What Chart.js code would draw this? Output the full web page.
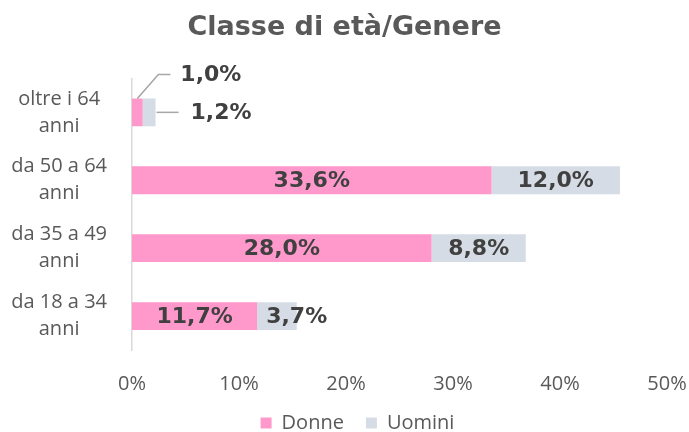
<!DOCTYPE html>
<html>
<head>
<meta charset="utf-8">
<script src="https://cdn.jsdelivr.net/npm/chart.js@4/dist/chart.umd.min.js"></script>
<style>
  html, body { margin: 0; padding: 0; background: #fff; }
  #wrap { width: 689px; height: 432px; }
</style>
</head>
<body>
<div id="wrap"><canvas id="ageChart"></canvas></div>
<script>
// Classe di età/Genere - quote per fascia d'età e genere
const categories = [
  ['oltre i 64', 'anni'],
  ['da 50 a 64', 'anni'],
  ['da 35 a 49', 'anni'],
  ['da 18 a 34', 'anni']
];
const donne = [1.0, 33.6, 28.0, 11.7];
const uomini = [1.2, 12.0, 8.8, 3.7];
const xTicks = [0, 10, 20, 30, 40, 50];

const pct = v => v.toFixed(1).replace('.', ',') + '%';

// draws the value labels; tiny bars get a callout with a leader line
const barLabels = {
  id: 'barLabels',
  afterLayout(chart) {
    // nudge legend to the right like the original
    chart.legend.left += 13;
    chart.legend.right += 13;
  },
  afterDatasetsDraw(chart) {
    const ctx = chart.ctx;
    ctx.save();
    ctx.font = 'bold 22px "DejaVu Sans"';
    ctx.fillStyle = '#404040';
    ctx.textBaseline = 'middle';
    chart.data.datasets.forEach((ds, di) => {
      const meta = chart.getDatasetMeta(di);
      meta.data.forEach((bar, i) => {
        const text = pct(ds.data[i]);
        const left = Math.min(bar.x, bar.base);
        const right = Math.max(bar.x, bar.base);
        const w = right - left;
        const tw = ctx.measureText(text).width;
        if (w < 30) {
          ctx.strokeStyle = '#A6A6A6';
          ctx.lineWidth = 1.5;
          ctx.beginPath();
          if (di === 0) {
            const cx = (left + right) / 2;
            const top = bar.y - bar.height / 2;
            ctx.moveTo(cx, top);
            ctx.lineTo(cx + 21, top - 24);
            ctx.lineTo(cx + 33, top - 24);
            ctx.stroke();
            ctx.textAlign = 'left';
            ctx.fillText(text, cx + 43, top - 23);
          } else {
            ctx.moveTo(right + 1, bar.y);
            ctx.lineTo(right + 23, bar.y);
            ctx.stroke();
            ctx.textAlign = 'left';
            ctx.fillText(text, right + 35, bar.y + 1);
          }
        } else if (tw > w - 4) {
          ctx.textAlign = 'left';
          ctx.fillText(text, left + 9, bar.y + 1);
        } else {
          ctx.textAlign = 'center';
          ctx.fillText(text, (left + right) / 2, bar.y + 1);
        }
      });
    });
    ctx.restore();
  }
};

const ctx = document.getElementById('ageChart').getContext('2d');
new Chart(ctx, {
  type: 'bar',
  data: {
    labels: categories,
    datasets: [
      {
        label: 'Donne',
        data: donne,
        backgroundColor: '#FF99CC',
        barPercentage: 0.41,
        categoryPercentage: 1
      },
      {
        label: 'Uomini',
        data: uomini,
        backgroundColor: '#D6DCE5',
        barPercentage: 0.41,
        categoryPercentage: 1
      }
    ]
  },
  options: {
    indexAxis: 'y',
    responsive: true,
    maintainAspectRatio: false,
    animation: false,
    events: [],
    layout: { padding: { left: 0, right: 0, top: 0, bottom: -11 } },
    scales: {
      x: {
        stacked: true,
        min: 0,
        max: 50,
        afterBuildTicks: s => { s.ticks = xTicks.map(v => ({ value: v })); },
        afterFit: s => { s.height = 41; s.paddingRight = 22; },
        grid: { display: false },
        border: { display: false },
        ticks: {
          padding: 14,
          color: '#595959',
          font: { family: '"Open Sans"', size: 20 },
          callback: v => v + '%'
        }
      },
      y: {
        stacked: true,
        afterFit: s => { s.width = 132; },
        grid: { display: false },
        border: { display: true, color: '#D9D9D9', width: 1.5 },
        ticks: {
          crossAlign: 'center',
          padding: 17,
          color: '#595959',
          font: { family: '"Open Sans"', size: 20, lineHeight: 1.35 }
        }
      }
    },
    plugins: {
      title: {
        display: true,
        text: 'Classe di età/Genere',
        color: '#595959',
        font: { family: '"DejaVu Sans"', size: 27, weight: 'bold' },
        padding: { top: 12, bottom: 34 }
      },
      legend: {
        position: 'bottom',
        labels: {
          boxWidth: 11,
          boxHeight: 11,
          padding: 22,
          color: '#595959',
          font: { family: '"Open Sans"', size: 20 }
        }
      },
      tooltip: { enabled: false }
    }
  },
  plugins: [barLabels]
});
</script>
</body>
</html>
